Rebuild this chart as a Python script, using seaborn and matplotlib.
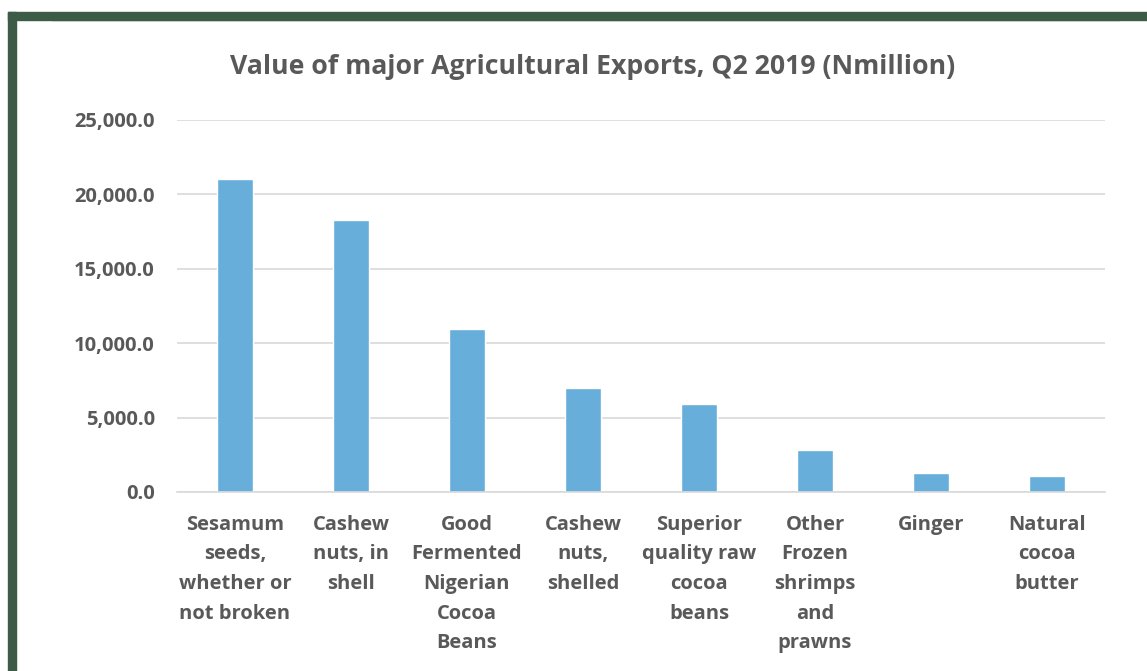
import matplotlib
matplotlib.use("Agg")
import matplotlib.pyplot as plt
import seaborn as sns
import pandas as pd
from matplotlib.patches import Rectangle
from matplotlib.lines import Line2D

# categories and values (N million)
products = [
    "Sesamum\nseeds,\nwhether or\nnot broken",
    "Cashew\nnuts, in\nshell",
    "Good\nFermented\nNigerian\nCocoa\nBeans",
    "Cashew\nnuts,\nshelled",
    "Superior\nquality raw\ncocoa\nbeans",
    "Other\nFrozen\nshrimps\nand\nprawns",
    "Ginger",
    "Natural\ncocoa\nbutter",
]
values = [21000, 18250, 10940, 6970, 5895, 2820, 1255, 1075]
yticks = [0, 5000, 10000, 15000, 20000, 25000]

title = "Value of major Agricultural Exports, Q2 2019 (Nmillion)"
bar_color = "#67AEDB"
text_color = "#595959"
grid_color = "#D9D9D9"
frame_green = "#3D5C47"

sns.set_style("white")
plt.rcParams["font.family"] = ["Open Sans", "DejaVu Sans"]

df = pd.DataFrame({"product": products, "value": values})

fig = plt.figure(figsize=(11.47, 6.71), dpi=100)
ax = fig.add_axes([0.1543, 0.2668, 0.8091, 0.5544])

sns.barplot(data=df, x="product", y="value", color=bar_color, width=0.31,
            saturation=1, ax=ax)

ax.set_ylim(0, 25000)
ax.set_xlim(-0.5, len(products) - 0.5)
ax.set_yticks(yticks)
ax.set_yticklabels([f"{v:,.1f}" for v in yticks])
ax.set_xlabel("")
ax.set_ylabel("")

ax.yaxis.grid(True, color=grid_color, linewidth=1.2)
ax.set_axisbelow(True)
for side in ["top", "right", "left"]:
    ax.spines[side].set_visible(False)
ax.spines["bottom"].set_color(grid_color)
ax.spines["bottom"].set_linewidth(1.2)

ax.tick_params(axis="both", length=0, colors=text_color)
ax.tick_params(axis="y", pad=16, labelsize=14.5)
ax.tick_params(axis="x", pad=16.5, labelsize=14.5)
for lab in ax.get_yticklabels():
    lab.set_fontweight("bold")
for lab in ax.get_xticklabels():
    lab.set_fontweight("bold")
    lab.set_linespacing(1.64)
    lab.set_verticalalignment("top")

fig.text(0.517, 0.900, title, ha="center", va="center", fontsize=19.2,
         fontweight="bold", color=text_color)

# green frame on the left and top, plus faint chart border line
fig.patches.append(Rectangle((8 / 1147, 0), 8 / 1147, 1 - 12 / 671,
                             transform=fig.transFigure, color=frame_green,
                             zorder=5))
fig.patches.append(Rectangle((8 / 1147, 1 - 20 / 671), 1 - 8 / 1147, 8 / 671,
                             transform=fig.transFigure, color=frame_green,
                             zorder=5))
fig.lines.append(Line2D([53 / 1147, 1119 / 1147], [1 - 21 / 671, 1 - 21 / 671],
                        transform=fig.transFigure, color="#E6E6E6",
                        linewidth=1.5))

fig.savefig("out.png", dpi=100, facecolor="white")
